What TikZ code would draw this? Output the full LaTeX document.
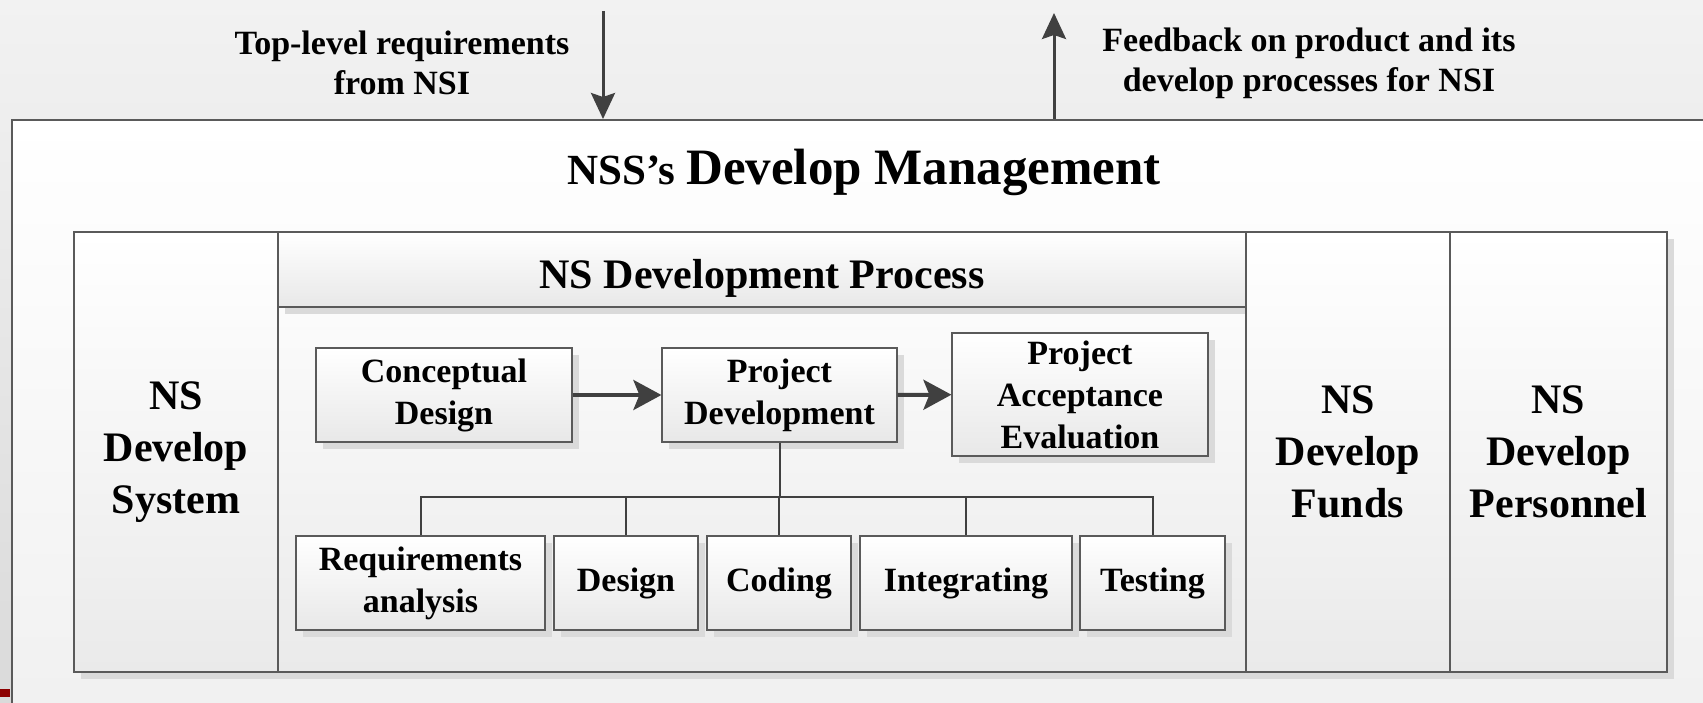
\documentclass[tikz,border=0pt]{standalone}
\usepackage{fontspec}
\setmainfont{Liberation Serif}
\usetikzlibrary{positioning,arrows.meta,shadows}
\definecolor{EdgeGray}{RGB}{90,90,90}
\definecolor{ArrowGray}{RGB}{64,64,64}
\definecolor{ShadowGray}{RGB}{218,218,218}
\definecolor{PaperTop}{RGB}{242,242,242}
\definecolor{PaperBottom}{RGB}{218,218,218}
\definecolor{SheetBottom}{RGB}{240,240,240}
\definecolor{ColBottom}{RGB}{234,234,234}
\definecolor{BoxBottom}{RGB}{232,232,232}
\definecolor{MarkRed}{RGB}{140,0,0}

\begin{document}
\begin{tikzpicture}[x=1pt, y=-1pt,
  every node/.style={align=center, inner sep=0pt},
  label/.style={font=\fontsize{34}{40}\selectfont\bfseries},
  sheet/.style={draw=EdgeGray, line width=1.6pt, top color=white, bottom color=SheetBottom},
  column/.style={draw=EdgeGray, line width=1.2pt, top color=white, bottom color=ColBottom,
    minimum height=440pt, font=\fontsize{42}{52}\selectfont\bfseries},
  block/.style={draw=EdgeGray, line width=1.2pt, top color=white, bottom color=BoxBottom,
    minimum height=94pt, font=\fontsize{34}{42}\selectfont\bfseries,
    drop shadow={shadow xshift=7pt, shadow yshift=-7pt, fill=ShadowGray, opacity=1}},
  flow/.style={line width=4pt, draw=ArrowGray, -{Stealth[length=28pt, width=30pt, inset=6pt]}},
  inout/.style={line width=3pt, draw=ArrowGray, -{Stealth[length=26pt, width=24pt, inset=4pt]}},
  tree/.style={line width=2pt, draw=ArrowGray}]
  \useasboundingbox (0,0) rectangle (1703,703);
  \clip (0,0) rectangle (1703,703);
  \shade[top color=PaperTop, bottom color=PaperBottom] (0,0) rectangle (1703,703);
  \fill[MarkRed] (0,689) rectangle (10,697);

  \node[sheet, anchor=north west, minimum width=1720pt, minimum height=620pt] (outer) at (11,119) {};

  \node[label] (req) at (402,63) {Top-level requirements\\from NSI};
  \node[label] (feed) at (1309,63) {Feedback on product and its\\develop processes for NSI};
  \coordinate (reqtop) at (603,11);
  \coordinate (feedtop) at (1054,13);
  \draw[inout] (reqtop) -- (reqtop |- outer.north);
  \draw[inout] (feedtop |- outer.north) -- (feedtop);

  \node[font=\bfseries] (title) at (864,172)
    {\fontsize{43}{50}\selectfont NSS's \fontsize{51}{60}\selectfont Develop Management};

  \fill[ShadowGray] (81,239) rectangle (1674,679);
  \node[column, minimum width=204pt] (system) at (176,452) {NS\\Develop\\System};
  \node[column, minimum width=968pt] (process) at (762,452) {};
  \node[block, minimum width=968pt, minimum height=75pt, text height=38pt, text depth=0pt,
    font=\fontsize{42}{48}\selectfont\bfseries] (header) at (762,269.5) {NS Development Process};
  \node[column, minimum width=204pt] (funds) at (1348,452) {NS\\Develop\\Funds};
  \node[column, minimum width=217pt] (personnel) at (1558.5,452) {NS\\Develop\\Personnel};

  \node[block, minimum width=256pt] (concept) at (444,395) {Conceptual\\Design};
  \node[block, minimum width=235pt] (projdev) at (779.5,395) {Project\\Development};
  \node[block, minimum width=256pt, minimum height=123pt] (accept) at (1080,394.5)
    {Project\\Acceptance\\Evaluation};
  \draw[flow] (concept) -- (projdev);
  \draw[flow] (projdev) -- (accept);

  \node[block, minimum width=249pt] (reqs) at (420.5,583) {Requirements\\analysis};
  \node[block, minimum width=144pt] (design) at (626,583) {Design};
  \node[block, minimum width=144pt] (coding) at (779,583) {Coding};
  \node[block, minimum width=212pt] (integ) at (966,583) {Integrating};
  \node[block, minimum width=145pt] (testing) at (1152.5,583) {Testing};

  \coordinate (bus) at (779.5,497);
  \draw[tree] (projdev.south) -- (bus);
  \foreach \step in {reqs,design,coding,integ,testing}
    \draw[tree] (bus) -| (\step.north);
\end{tikzpicture}
\end{document}
